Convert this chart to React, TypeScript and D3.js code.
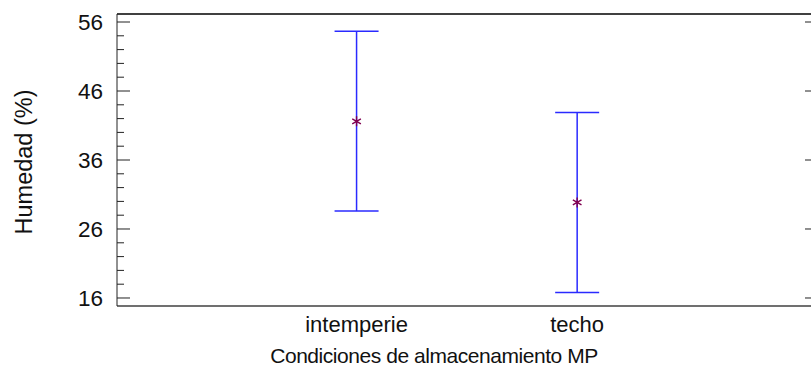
import React, { useEffect } from "react";
import * as d3 from "d3";

// Storage condition groups and humidity interval estimates
const categories = ["intemperie", "techo"];
const means = [41.6, 29.85];
const lowers = [28.6, 16.8];
const uppers = [54.65, 42.9];
const yTicks = [16, 26, 36, 46, 56];

const W = 811;
const H = 371;
const left = 117;
const right = 811;
const top = 14;
const bottom = 306;

export default function App() {
  useEffect(() => {
    document.body.style.margin = "0";
  }, []);

  const y = d3.scaleLinear().domain([14.84, 57.16]).range([bottom, top]);
  const x = d3.scaleLinear().domain([-1.086, 2.06]).range([left, right]);
  const minor = d3.range(16, 57, 2).filter((v) => !yTicks.includes(v));
  const font = "'Liberation Sans', Arial, sans-serif";
  const star = d3.symbol().type(d3.symbolAsterisk).size(70);

  return (
    <svg width={W} height={H} style={{ display: "block", background: "#fff" }}>
      {/* frame */}
      <line x1={left} x2={right} y1={top} y2={top} stroke="#404040" strokeWidth={2} />
      <line x1={left} x2={right} y1={bottom} y2={bottom} stroke="#404040" strokeWidth={1.5} />
      <line x1={left} x2={left} y1={top} y2={bottom} stroke="#222" strokeWidth={1} />
      {/* y ticks */}
      {yTicks.map((t) => (
        <g key={t}>
          <line x1={left} x2={left + 13} y1={y(t)} y2={y(t)} stroke="#222" />
          <line x1={right - 6} x2={right} y1={y(t)} y2={y(t)} stroke="#222" />
          <text x={left - 14} y={y(t)} dy="0.36em" textAnchor="end" fontFamily={font} fontSize={22.5} fill="#111">
            {t}
          </text>
        </g>
      ))}
      {minor.map((t) => (
        <line key={t} x1={left} x2={left + 7} y1={y(t)} y2={y(t)} stroke="#222" />
      ))}
      {/* intervals */}
      {categories.map((c, i) => (
        <g key={c} stroke="#2a2aff" strokeWidth={1.5}>
          <line x1={x(i)} x2={x(i)} y1={y(uppers[i])} y2={y(lowers[i])} />
          <line x1={x(i) - 22} x2={x(i) + 22} y1={y(uppers[i])} y2={y(uppers[i])} />
          <line x1={x(i) - 22} x2={x(i) + 22} y1={y(lowers[i])} y2={y(lowers[i])} />
          <path d={star() || ""} transform={`translate(${x(i)},${y(means[i])})`} stroke="#800050" strokeWidth={1.4} fill="none" />
          <text x={x(i)} y={332} textAnchor="middle" fontFamily={font} fontSize={22} fill="#111" stroke="none">
            {c}
          </text>
        </g>
      ))}
      <text x={434} y={363} textAnchor="middle" fontFamily={font} fontSize={21} letterSpacing={-0.45} fill="#111">
        Condiciones de almacenamiento MP
      </text>
      <text transform={`translate(32,162) rotate(-90)`} textAnchor="middle" fontFamily={font} fontSize={23.5} fill="#111">
        Humedad (%)
      </text>
    </svg>
  );
}
